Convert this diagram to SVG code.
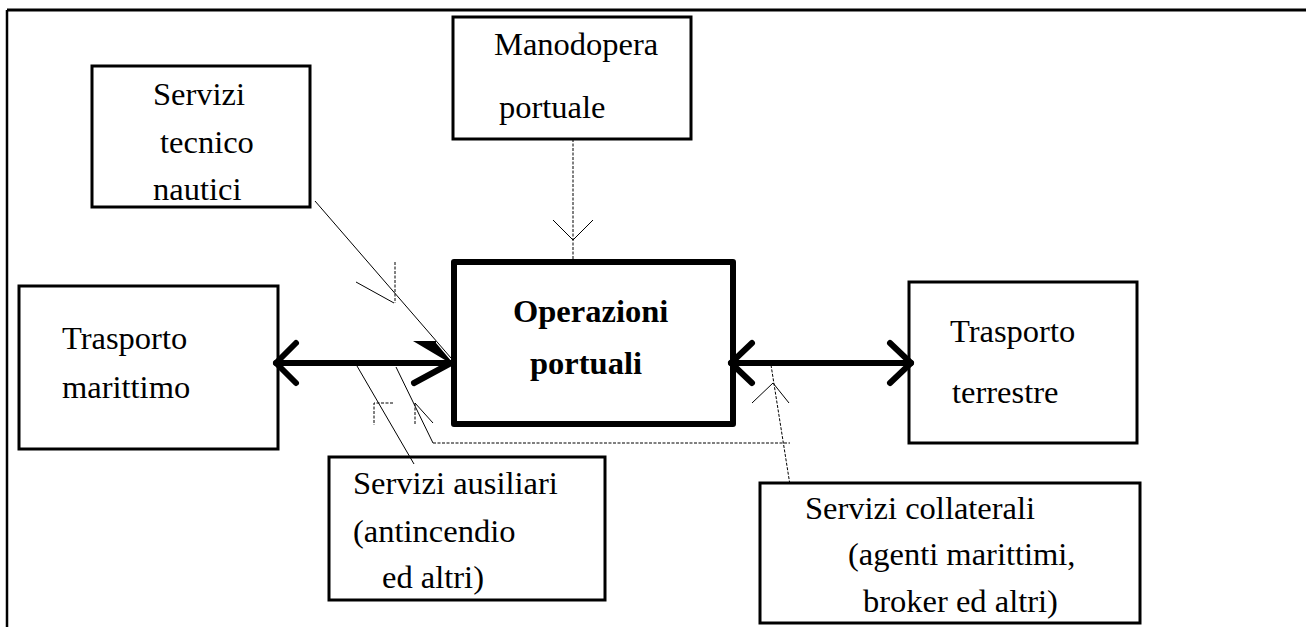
<svg xmlns="http://www.w3.org/2000/svg" width="1306" height="627" viewBox="0 0 1306 627">
<style>
.box{fill:#fff;stroke:#000;stroke-width:3}
.main{fill:#fff;stroke:#000;stroke-width:6;stroke-linejoin:round}
.t{font-family:"Liberation Serif","Times New Roman",serif;font-size:32.5px;fill:#000}
.b{font-weight:bold}
.thick{fill:none;stroke:#000;stroke-width:6;stroke-linecap:round;stroke-linejoin:round}
.thin{fill:none;stroke:#000;stroke-width:1}
.dash{fill:none;stroke:#000;stroke-width:1;stroke-dasharray:3 1.5}
</style>
<rect width="1306" height="627" fill="#fff"/>
<g id="frame">
<line x1="7" y1="10" x2="1306" y2="10" stroke="#000" stroke-width="3"/>
<line x1="7" y1="10" x2="7" y2="627" stroke="#000" stroke-width="2.5"/>
</g>
<g id="manodopera">
<rect class="box" x="453" y="17" width="238" height="122"/>
<text class="t" x="494" y="55">Manodopera</text>
<text class="t" x="499" y="118">portuale</text>
</g>
<g id="tecnico">
<rect class="box" x="92" y="66" width="218" height="141"/>
<text class="t" x="153" y="105">Servizi</text>
<text class="t" x="160" y="153">tecnico</text>
<text class="t" x="153" y="200">nautici</text>
</g>
<g id="marittimo">
<rect class="box" x="19" y="286" width="259" height="163"/>
<text class="t" x="62" y="349">Trasporto</text>
<text class="t" x="62" y="398">marittimo</text>
</g>
<g id="operazioni">
<rect class="main" x="454" y="262" width="279" height="162"/>
<text class="t b" x="513" y="322">Operazioni</text>
<text class="t b" x="530" y="374">portuali</text>
</g>
<g id="terrestre">
<rect class="box" x="909" y="282" width="228" height="161"/>
<text class="t" x="950" y="342">Trasporto</text>
<text class="t" x="952" y="403">terrestre</text>
</g>
<g id="ausiliari">
<rect class="box" x="329" y="457" width="276" height="143"/>
<text class="t" x="353" y="494">Servizi ausiliari</text>
<text class="t" x="353" y="542">(antincendio</text>
<text class="t" x="382" y="588">ed altri)</text>
</g>
<g id="collaterali">
<rect class="box" x="760" y="483" width="380" height="140"/>
<text class="t" x="805" y="519">Servizi collaterali</text>
<text class="t" x="848" y="565">(agenti marittimi,</text>
<text class="t" x="863" y="612">broker ed altri)</text>
</g>
<g id="connectors">
<line class="thick" x1="276" y1="363" x2="451" y2="363"/>
<polyline class="thick" points="296,343 276,363 296,383"/>
<line class="thick" x1="414" y1="383" x2="451" y2="363"/>
<polygon points="413,341 436,341 436,343 452,362 450,363" fill="#000"/>
<line class="thick" x1="731" y1="363" x2="911" y2="363"/>
<polyline class="thick" points="752,343 731,363 752,383"/>
<polyline class="thick" points="890,343 911,363 890,383"/>
<line class="dash" x1="573" y1="139" x2="573" y2="262"/>
<polyline class="thin" points="553,220 573,240 593,220"/>
<line class="thin" x1="315" y1="201" x2="451" y2="358"/>
<line class="thin" x1="356" y1="282" x2="394" y2="303"/>
<line class="dash" x1="395" y1="262" x2="395" y2="303"/>
<line class="thin" x1="357" y1="366" x2="414" y2="464"/>
<polyline class="dash" points="393,403 374,403 374,425"/>
<line class="thin" x1="396" y1="367" x2="433" y2="443"/>
<line class="dash" x1="433" y1="443" x2="790" y2="443"/>
<line class="thin" x1="415" y1="403" x2="433" y2="423"/>
<line class="dash" x1="415" y1="403" x2="415" y2="425"/>
<line class="dash" x1="771" y1="365" x2="790" y2="485"/>
<polyline class="thin" points="752,403 773,383 789,403"/>
</g>
</svg>
